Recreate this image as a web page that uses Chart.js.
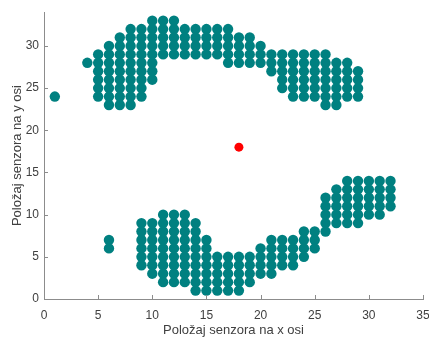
<!DOCTYPE html>
<html>
<head>
<meta charset="utf-8">
<script src="https://cdn.jsdelivr.net/npm/chart.js@4/dist/chart.umd.min.js"></script>
<style>
  html, body { margin: 0; padding: 0; background: #fff; }
  #wrap { width: 429px; height: 342px; }
</style>
</head>
<body>
<div id="wrap"><canvas id="myChart" width="429" height="342"></canvas></div>
<script>
// gornja skupina senzora: za svaki stupac x najniži i najviši y
const upperX    = [1, 4, 5, 6, 7, 8, 9, 10, 11, 12, 13, 14, 15, 16, 17, 18, 19, 20, 21, 22, 23, 24, 25, 26, 27, 28, 29];
const upperYMin = [24, 28, 24, 23, 23, 23, 24, 26, 29, 29, 29, 29, 29, 29, 28, 28, 28, 28, 27, 25, 24, 24, 24, 23, 23, 24, 24];
const upperYMax = [24, 28, 29, 30, 31, 32, 32, 33, 33, 33, 32, 32, 32, 32, 32, 31, 31, 30, 29, 29, 29, 29, 29, 29, 28, 28, 27];

// donja skupina senzora
const lowerX    = [6, 9, 10, 11, 12, 13, 14, 15, 16, 17, 18, 19, 20, 21, 22, 23, 24, 25, 26, 27, 28, 29, 30, 31, 32];
const lowerYMin = [6, 4, 3, 2, 2, 2, 1, 1, 1, 1, 1, 2, 3, 3, 4, 4, 5, 6, 8, 9, 9, 9, 10, 10, 11];
const lowerYMax = [7, 9, 9, 10, 10, 10, 9, 7, 5, 5, 5, 5, 6, 7, 7, 7, 8, 8, 12, 13, 14, 14, 14, 14, 14];

// središnja točka (crvena)
const centerX = [18];
const centerY = [18];

const xTicks = [0, 5, 10, 15, 20, 25, 30, 35];
const yTicks = [0, 5, 10, 15, 20, 25, 30];

function columnsToPoints(xs, mins, maxs) {
  const pts = [];
  xs.forEach((x, i) => {
    for (let y = mins[i]; y <= maxs[i]; y++) pts.push({ x: x, y: y });
  });
  return pts;
}

const sensorPoints = columnsToPoints(upperX, upperYMin, upperYMax)
  .concat(columnsToPoints(lowerX, lowerYMin, lowerYMax));
const centerPoints = centerX.map((x, i) => ({ x: x, y: centerY[i] }));

const axisColor = '#8c8c8c';
const textColor = '#404040';
const fontFamily = '"Liberation Sans", Arial, sans-serif';

// MATLAB-style inward ticks
const innerTicks = {
  id: 'innerTicks',
  afterDraw(chart) {
    const ctx = chart.ctx;
    const xs = chart.scales.x, ys = chart.scales.y;
    const len = 4;
    ctx.save();
    ctx.strokeStyle = axisColor;
    ctx.lineWidth = 1;
    ctx.beginPath();
    xTicks.forEach(v => {
      const px = Math.round(xs.getPixelForValue(v)) + 0.5;
      ctx.moveTo(px, ys.bottom);
      ctx.lineTo(px, ys.bottom - len);
    });
    yTicks.forEach(v => {
      const py = Math.round(ys.getPixelForValue(v)) + 0.5;
      ctx.moveTo(xs.left, py);
      ctx.lineTo(xs.left + len, py);
    });
    ctx.stroke();
    ctx.restore();
  }
};

const ctx = document.getElementById('myChart').getContext('2d');
new Chart(ctx, {
  type: 'scatter',
  data: {
    datasets: [
      {
        data: sensorPoints,
        backgroundColor: '#008080',
        borderColor: '#008080',
        borderWidth: 0,
        pointRadius: 5.2
      },
      {
        data: centerPoints,
        backgroundColor: '#ff0000',
        borderColor: '#ff0000',
        borderWidth: 0,
        pointRadius: 4.5
      }
    ]
  },
  options: {
    responsive: false,
    animation: false,
    layout: { padding: { top: 3, right: 6, left: 0, bottom: 0 } },
    plugins: {
      legend: { display: false },
      tooltip: { enabled: false }
    },
    scales: {
      x: {
        type: 'linear',
        min: 0,
        max: 35,
        afterFit: s => { s.height = 43; s.paddingRight = 0; },
        afterBuildTicks: s => { s.ticks = xTicks.map(v => ({ value: v })); },
        grid: { display: false, drawTicks: false },
        border: { display: true, color: axisColor, width: 1 },
        ticks: { color: textColor, padding: 9, font: { family: fontFamily, size: 12 } },
        title: {
          display: true,
          text: 'Položaj senzora na x osi',
          color: textColor,
          padding: { top: 2, bottom: 4 },
          font: { family: fontFamily, size: 13 }
        }
      },
      y: {
        type: 'linear',
        min: 0,
        max: 34,
        afterFit: s => { s.width = 44; },
        afterBuildTicks: s => { s.ticks = yTicks.map(v => ({ value: v })); },
        grid: { display: false, drawTicks: false },
        border: { display: true, color: axisColor, width: 1 },
        ticks: { color: textColor, padding: 5, font: { family: fontFamily, size: 12 } },
        title: {
          display: true,
          text: 'Položaj senzora na y osi',
          color: textColor,
          padding: { top: 10, bottom: 2 },
          font: { family: fontFamily, size: 13 }
        }
      }
    }
  },
  plugins: [innerTicks]
});
</script>
</body>
</html>
